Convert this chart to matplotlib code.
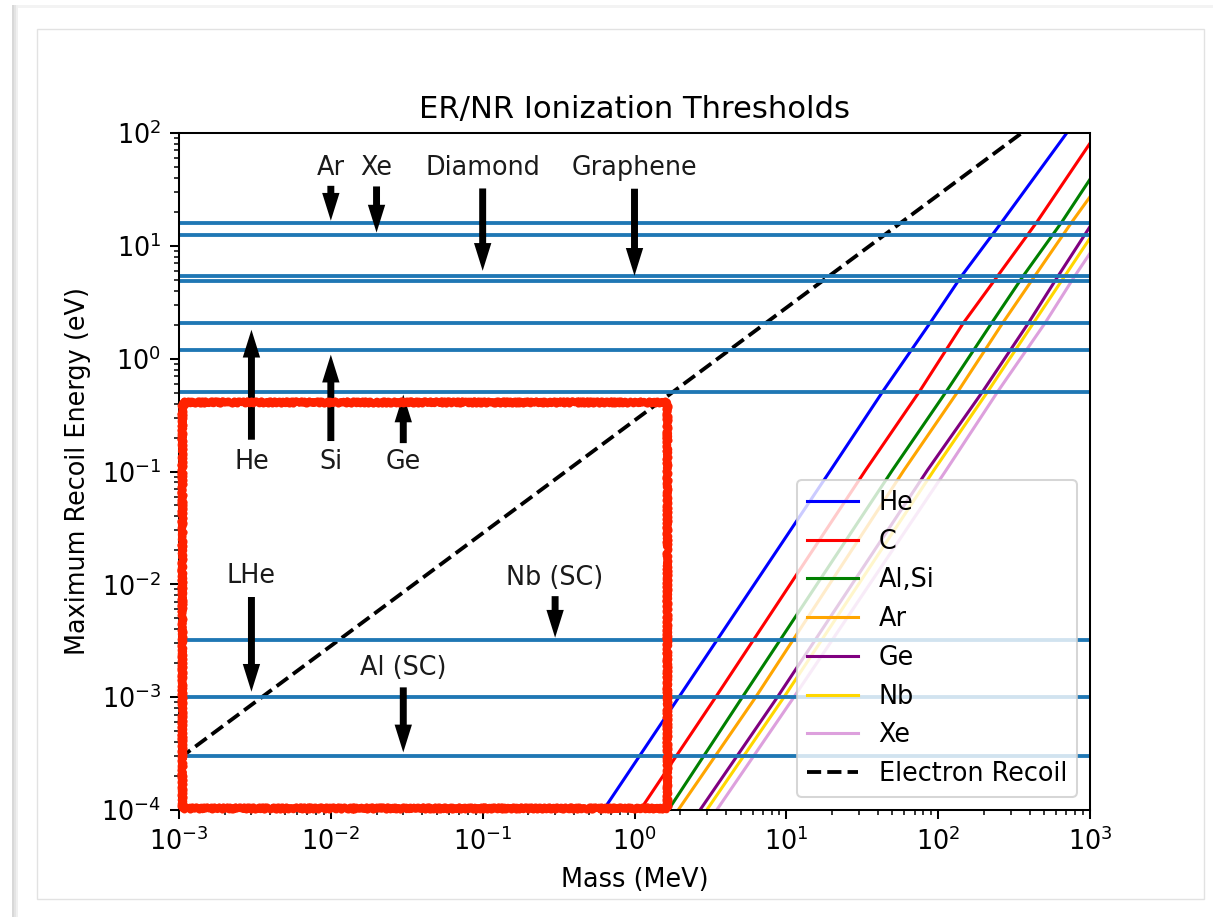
import matplotlib
matplotlib.use("Agg")
import matplotlib.pyplot as plt
from matplotlib.patches import Rectangle

# original figure was 6.4x4.8 in at ~184 dpi; we draw at 100 dpi so scale points
S = 1.836
W, H = 1213, 917

# ionization / gap thresholds (eV), horizontal lines
thresholds = [16.0, 12.4, 5.45, 4.9, 2.05, 1.2, 0.51, 3.2e-3, 1.0e-3, 3.0e-4]

# nuclear recoil curves: mass (MeV), energy (eV)
he_mass = [0.624, 1.94, 19.6, 43.5, 88.4, 143, 262, 703]
he_energy = [1e-4, 9.8e-4, 0.103, 0.52, 2.07, 5.43, 16.2, 100]
c_mass = [1.09, 3.39, 33.3, 75.9, 146.5, 247, 446, 1000]
c_energy = [1e-4, 9.8e-4, 0.103, 0.52, 2.07, 5.43, 16.2, 81.1]
alsi_mass = [1.67, 5.08, 50.0, 114, 225, 364, 651, 1000]
alsi_energy = [1e-4, 9.8e-4, 0.103, 0.52, 2.07, 5.43, 16.2, 38.9]
ar_mass = [1.94, 6.22, 59.6, 136, 266, 434, 758, 1000]
ar_energy = [1e-4, 9.8e-4, 0.103, 0.52, 2.07, 5.43, 16.2, 27.2]
ge_mass = [2.70, 8.64, 85.1, 198, 393, 618, 1000]
ge_energy = [1e-4, 9.8e-4, 0.103, 0.52, 2.07, 5.43, 14.8]
nb_mass = [2.99, 9.55, 93.9, 214, 424, 684, 1000]
nb_energy = [1e-4, 9.8e-4, 0.103, 0.52, 2.07, 5.43, 11.7]
xe_mass = [3.48, 11.1, 113, 249, 506, 796, 1000]
xe_energy = [1e-4, 9.8e-4, 0.103, 0.52, 2.07, 5.43, 8.59]

# electron recoil line
er_mass = [1e-3, 355]
er_energy = [2.85e-4, 100]

# arrow annotations: label, arrow tip (x, y), text position (x, y)
labels = ["Ar", "Xe", "Diamond", "Graphene", "He", "Si", "Ge", "LHe", "Nb (SC)", "Al (SC)"]
tip_x = [1e-2, 2e-2, 0.1, 1.0, 3e-3, 1e-2, 3e-2, 3e-3, 0.3, 3e-2]
tip_y = [16.0, 12.4, 5.45, 4.9, 2.05, 1.2, 0.51, 1.0e-3, 3.2e-3, 3.0e-4]
text_x = [1e-2, 2e-2, 0.1, 1.0, 3e-3, 1e-2, 3e-2, 3e-3, 0.3, 3e-2]
text_y = [49, 49, 49, 49, 0.122, 0.122, 0.122, 0.0119, 0.0114, 1.82e-3]

fs = 10 * S

fig = plt.figure(figsize=(W / 100, H / 100), dpi=100)
ax = fig.add_axes([179 / W, 1 - 810 / H, (1090 - 179) / W, (810 - 133) / H])

curves = [(he_mass, he_energy, "blue", "He"),
          (c_mass, c_energy, "red", "C"),
          (alsi_mass, alsi_energy, "green", "Al,Si"),
          (ar_mass, ar_energy, "orange", "Ar"),
          (ge_mass, ge_energy, "purple", "Ge"),
          (nb_mass, nb_energy, "gold", "Nb"),
          (xe_mass, xe_energy, "plum", "Xe")]
for m, e, col, lab in curves:
    ax.plot(m, e, color=col, lw=1.2 * S, label=lab)

ax.plot(er_mass, er_energy, "k--", lw=1.5 * S, label="Electron Recoil")

for t in thresholds:
    ax.axhline(t, color="C0", lw=1.5 * S)

for i in range(len(labels)):
    ax.annotate(labels[i], xy=(tip_x[i], tip_y[i]), xytext=(text_x[i], text_y[i]),
                ha="center", va="center", fontsize=fs, color="#1a1a1a",
                arrowprops=dict(facecolor="black", edgecolor="black", lw=0,
                                width=5, headwidth=12.5, headlength=20, shrink=0.05))

ax.set_xscale("log")
ax.set_yscale("log")
ax.set_xlim(1e-3, 1e3)
ax.set_ylim(1e-4, 1e2)
ax.set_title("ER/NR Ionization Thresholds", fontsize=12 * S, pad=6 * S)
ax.set_xlabel("Mass (MeV)", fontsize=fs, labelpad=4 * S)
ax.set_ylabel("Maximum Recoil Energy (eV)", fontsize=fs, labelpad=4 * S)
ax.tick_params(which="major", labelsize=fs, length=3.5 * S, width=0.8 * S, pad=3.5 * S)
ax.tick_params(which="minor", length=2 * S, width=0.6 * S)
for sp in ax.spines.values():
    sp.set_linewidth(0.8 * S)

leg = ax.legend(loc="lower right", fontsize=fs)
leg.get_frame().set_linewidth(0.8 * S)

# hand drawn red box over the low-mass region (two rough strokes layered)
for sc, ln, rnd, lw in [(1.7, 5, 2.5, 5.0), (1.3, 9, 4, 4.5)]:
    box = Rectangle((1.05e-3, 1.04e-4), 1.64 - 1.05e-3, 0.413 - 1.04e-4, fill=False,
                    edgecolor="#ff2200", lw=lw, clip_on=False, zorder=10,
                    joinstyle="round", capstyle="round")
    box.set_sketch_params(scale=sc, length=ln, randomness=rnd)
    ax.add_patch(box)


# screenshot frame around the figure
def px_rect(x0, y0, x1, y1, **kw):
    r = Rectangle((x0 / W, 1 - y1 / H), (x1 - x0) / W, (y1 - y0) / H,
                  transform=fig.transFigure, figure=fig, **kw)
    fig.patches.append(r)


px_rect(12, 5, W, 8, facecolor="#f3f3f3", edgecolor="none")
px_rect(12, 5, 14, H, facecolor="#d8d8d8", edgecolor="none")
px_rect(14, 5, 16, H, facecolor="#e4e4e4", edgecolor="none")
px_rect(16, 5, 18, H, facecolor="#f0f0f0", edgecolor="none")
px_rect(37, 29, 1204, 899, facecolor="none", edgecolor="#e2e2e2", lw=1.0)

fig.savefig("out.png", dpi=100)
